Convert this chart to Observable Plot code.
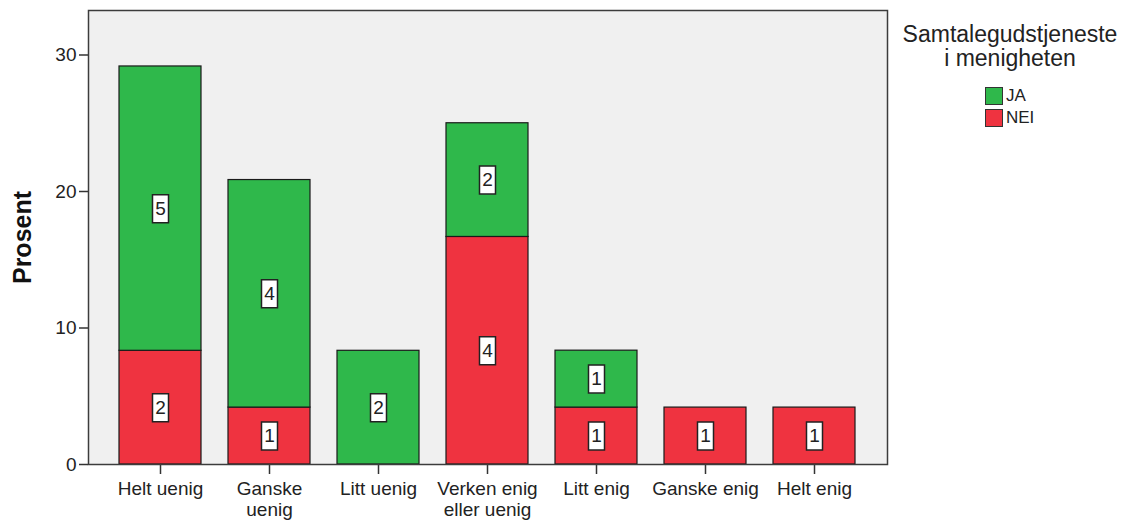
<!DOCTYPE html>
<html>
<head>
<meta charset="utf-8">
<script src="https://cdn.jsdelivr.net/npm/d3@7"></script>
<script src="https://cdn.jsdelivr.net/npm/@observablehq/plot@0.6"></script>
<style>
  html, body { margin: 0; padding: 0; background: #fff; }
  #wrap { position: relative; width: 1126px; height: 521px; font-family: "Liberation Sans", Arial, sans-serif; }
  #wrap svg { overflow: visible; }
  #legend { position: absolute; left: 890px; top: 22px; width: 240px; color: #222; }
  #legend .title { text-align: center; font-size: 23px; line-height: 24px; }
  #legend .items { margin-left: 95px; margin-top: 15px; }
  #legend .item { display: flex; align-items: center; font-size: 17px; height: 22px; }
  #legend .sw { border: 1px solid #333; margin-right: 3px; box-sizing: border-box; width: 18px; height: 18px; }
</style>
</head>
<body>
<div id="wrap"></div>
<script>
// ---- data ----
const categories = ["Helt uenig", "Ganske uenig", "Litt uenig", "Verken enig eller uenig", "Litt enig", "Ganske enig", "Helt enig"];
const tickLabels = ["Helt uenig", "Ganske\nuenig", "Litt uenig", "Verken enig\neller uenig", "Litt enig", "Ganske enig", "Helt enig"];
const groups = ["JA", "NEI"];
const groupColors = ["#2fb84b", "#ef3340"];
const jaPercent  = [20.83, 16.67, 8.33, 8.33, 4.17, 0, 0];
const neiPercent = [8.33, 4.17, 0, 16.67, 4.17, 4.17, 4.17];
const jaCount  = [5, 4, 2, 2, 1, 0, 0];
const neiCount = [2, 1, 0, 4, 1, 1, 1];
const yTicks = [0, 10, 20, 30];
const yLabel = "Prosent";
const legendTitle = ["Samtalegudstjeneste", "i menigheten"];

const rows = [];
categories.forEach((c, i) => {
  if (neiPercent[i] > 0) rows.push({cat: c, group: "NEI", pct: neiPercent[i], count: neiCount[i]});
  if (jaPercent[i] > 0) rows.push({cat: c, group: "JA", pct: jaPercent[i], count: jaCount[i]});
});
const stackOrder = ["NEI", "JA"];
const boxSymbol = { draw(ctx) { ctx.moveTo(-8, -14); ctx.lineTo(8, -14); ctx.lineTo(8, 14); ctx.lineTo(-8, 14); ctx.closePath(); } };

const chart = Plot.plot({
  width: 1126,
  height: 521,
  marginLeft: 88,
  marginRight: 239,
  marginTop: 10,
  marginBottom: 57,
  style: { fontFamily: "'Liberation Sans', Arial, sans-serif", color: "#222", background: "transparent" },
  x: { domain: categories, padding: 0.25, insetLeft: 2, insetRight: 3, label: null },
  y: { domain: [0, 33.26], nice: false, label: null },
  color: { domain: groups, range: groupColors },
  marks: [
    Plot.frame({ fill: "#f0f0f0", stroke: null }),
    Plot.barY(rows, { x: "cat", y: "pct", fill: "group", order: stackOrder, stroke: "#1a1a1a", strokeWidth: 1.2 }),
    Plot.dot(rows, Plot.stackY({ x: "cat", y: "pct", z: "group", order: stackOrder, symbol: boxSymbol, fill: "white", stroke: "#222", strokeWidth: 1.5 })),
    Plot.text(rows, Plot.stackY({ x: "cat", y: "pct", z: "group", order: stackOrder, text: "count", fontSize: 19, fill: "#222" })),
    Plot.axisY({ ticks: yTicks, tickSize: 9, tickPadding: 3, fontSize: 19, label: null, stroke: "#333", strokeWidth: 1.5 }),
    Plot.axisX({ tickSize: 10, tickPadding: 6, fontSize: 19, label: null, tickFormat: (d) => tickLabels[categories.indexOf(d)], lineHeight: 1.08, stroke: "#333", strokeWidth: 1.5 }),
    Plot.text([yLabel], { frameAnchor: "left", dx: -66, rotate: -90, textAnchor: "middle", fontWeight: "bold", fontSize: 25, fill: "#111" }),
    Plot.frame({ stroke: "#3c3c3c", strokeWidth: 1.5 })
  ]
});

const wrap = document.getElementById("wrap");
wrap.appendChild(chart);

const legend = document.createElement("div");
legend.id = "legend";
legend.innerHTML = `<div class="title">${legendTitle.join("<br>")}</div><div class="items">` +
  groups.map((g, i) => `<div class="item"><span class="sw" style="background:${groupColors[i]}"></span>${g}</div>`).join("") + `</div>`;
wrap.appendChild(legend);
</script>
</body>
</html>
